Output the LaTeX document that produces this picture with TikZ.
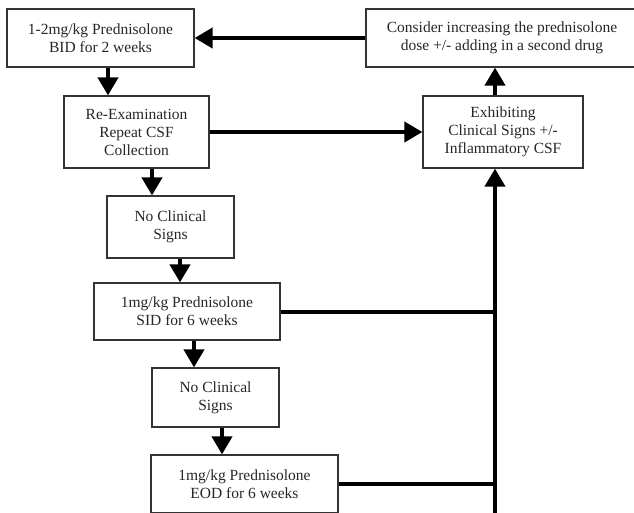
\documentclass[tikz,border=0pt]{standalone}
\usepackage{fontspec}
\setmainfont{Liberation Serif}
\usetikzlibrary{arrows.meta}
\begin{document}
\begin{tikzpicture}[x=1pt,y=-1pt,
  box/.style={draw=black!80,line width=1.2pt,align=center,inner sep=0pt,
    font=\fontsize{15.5}{18}\selectfont,text=black!85},
  arr/.style={line width=4pt,-{Triangle[width=20pt,length=18pt]}},
  ln/.style={line width=4pt}]
\useasboundingbox (0,0) rectangle (634,512);
\clip (0,0) rectangle (634,512);
\node[box,minimum width=187pt,minimum height=58pt] (b1) at (100.5,38) {1-2mg/kg Prednisolone\\BID for 2 weeks};
\node[box,minimum width=145pt,minimum height=72pt] (re) at (136.5,132) {Re-Examination\\Repeat CSF\\Collection};
\node[box,minimum width=127pt,minimum height=62pt] (n1) at (170.5,227) {No Clinical\\Signs};
\node[box,minimum width=186pt,minimum height=57pt] (sid) at (187,311.5) {1mg/kg Prednisolone\\SID for 6 weeks};
\node[box,minimum width=127pt,minimum height=59pt] (n2) at (215.5,397.5) {No Clinical\\Signs};
\node[box,minimum width=187pt,minimum height=58pt] (eod) at (244.5,484) {1mg/kg Prednisolone\\EOD for 6 weeks};
\node[box,minimum width=272pt,minimum height=58pt] (cons) at (502,38) {Consider increasing the prednisolone\\dose +/- adding in a second drug};
\node[box,minimum width=160pt,minimum height=72pt] (exh) at (503,132) {Exhibiting\\Clinical Signs +/-\\Inflammatory CSF};
\coordinate (xa) at (108,0);
\coordinate (xb) at (152,0);
\coordinate (xc) at (180,0);
\coordinate (xd) at (194,0);
\coordinate (xe) at (222,0);
\coordinate (xf) at (495,0);
\coordinate (bot) at (495,520);
\draw[arr] (b1.south -| xa) -- (re.north -| xa);
\draw[arr] (re.south -| xb) -- (n1.north -| xb);
\draw[arr] (n1.south -| xc) -- (sid.north -| xc);
\draw[arr] (sid.south -| xd) -- (n2.north -| xd);
\draw[arr] (n2.south -| xe) -- (eod.north -| xe);
\draw[arr] (re.east) -- (exh.west);
\draw[arr] (cons.west) -- (b1.east);
\draw[arr] (exh.north -| xf) -- (cons.south -| xf);
\draw[arr] (bot) -- (exh.south -| bot);
\draw[ln] (sid.east) -- (sid.east -| bot);
\draw[ln] (eod.east) -- (eod.east -| bot);
\end{tikzpicture}
\end{document}
